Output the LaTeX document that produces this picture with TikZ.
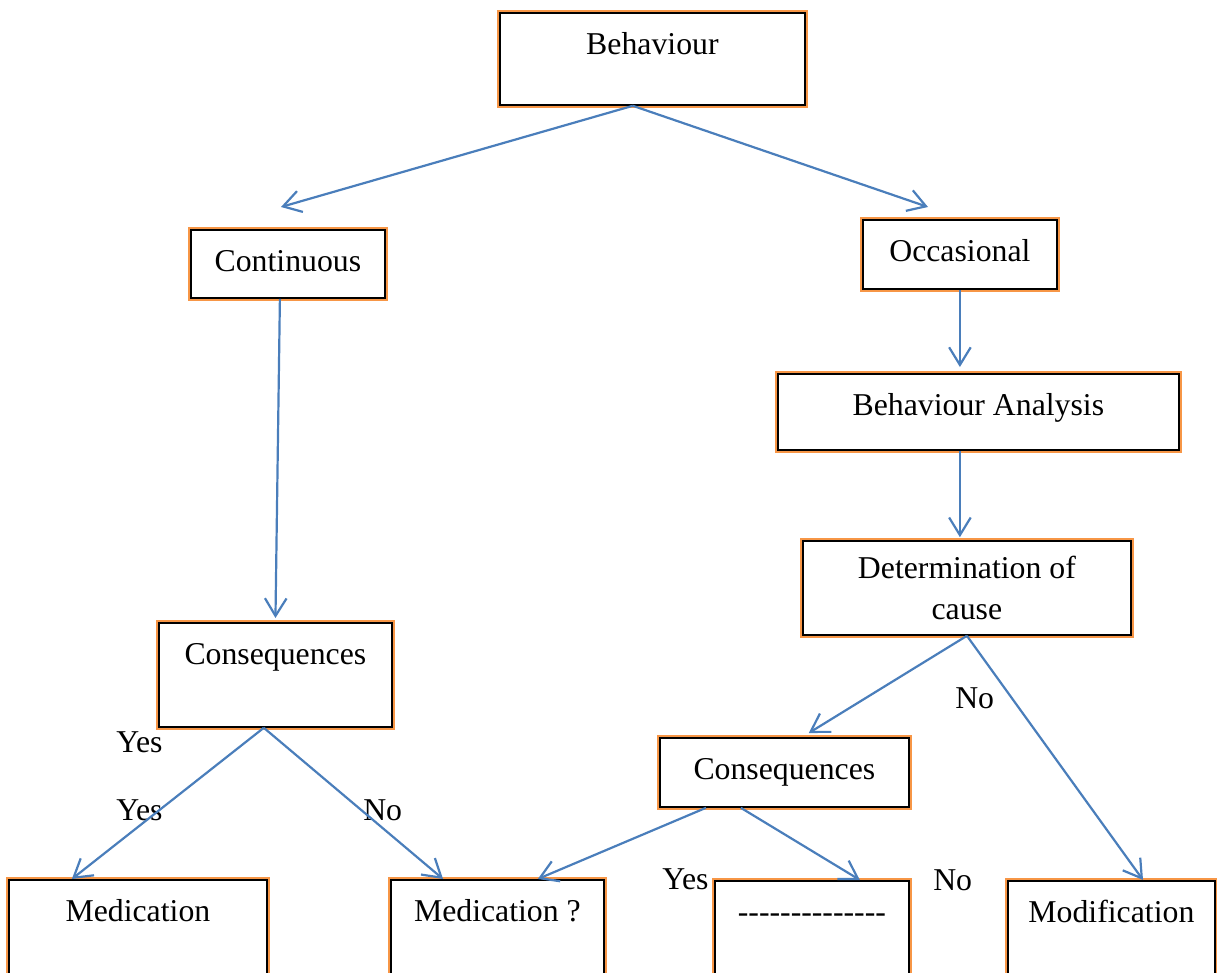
\documentclass[tikz,border=0pt]{standalone}
\usepackage{fontspec}
\setmainfont{Liberation Serif}
\usetikzlibrary{arrows.meta}

\definecolor{flowblue}{HTML}{4A7EBB}
\definecolor{frameorange}{HTML}{F79646}

\begin{document}
\begin{tikzpicture}[x=0.25mm, y=-0.25mm, font=\fontsize{22.6}{29.2}\selectfont,
  box/.style={draw=black, line width=0.45mm, fill=white, preaction={draw=frameorange, line width=1.4mm}, inner sep=0pt, anchor=north west},
  toptext/.style={text height=10.3mm},
  arr/.style={-{Straight Barb[length=4.4mm, width=5.4mm]}, draw=flowblue, line width=0.55mm},
  lbl/.style={anchor=base west, inner sep=0pt}]
\clip (0,0) rectangle (1217,973);

% Cajas
\node[box, toptext, minimum width=76.25mm, text depth=12.7mm] (beh) at (499,12) {Behaviour};
\node[box, toptext, minimum width=48.5mm, text depth=6.7mm] (cont) at (190,229) {Continuous};
\node[box, toptext, minimum width=48.5mm, text depth=6.95mm] (occ) at (862,219) {Occasional};
\node[box, toptext, minimum width=100.25mm, text depth=8.7mm] (bana) at (777,373) {Behaviour Analysis};
\node[box, align=center, minimum width=82mm, minimum height=23.5mm] (detc) at (802,540) {Determination of\\cause};
\node[box, toptext, minimum width=58.25mm, text depth=15.7mm] (consl) at (158,622) {Consequences};
\node[box, toptext, minimum width=62.25mm, text depth=6.95mm] (consr) at (659,737) {Consequences};
\node[box, toptext, minimum width=64.5mm, text depth=17.45mm] (meda) at (8,879) {Medication};
\node[box, toptext, minimum width=53.25mm, text depth=17.45mm] (medb) at (390,879) {Medication ?};
\node[box, toptext, minimum width=48.5mm, text depth=17.2mm] (undec) at (714,880) {{-}{-}{-}{-}{-}{-}{-}{-}{-}{-}{-}{-}{-}{-}};
\node[box, toptext, minimum width=51.75mm, text depth=17.2mm] (modif) at (1007,880) {Modification};

% Etiquetas
\node[lbl] (yesa) at (116,752) {Yes};
\node[lbl] (yesb) at (116,820) {Yes};
\node[lbl] (noa) at (363,820) {No};
\node[lbl] (nob) at (955,708) {No};
\node[lbl] (yesc) at (662,889) {Yes};
\node[lbl] (noc) at (933,890) {No};

% Flechas
\coordinate (tipl) at (281,207);
\coordinate (tipr) at (928,207);
\draw[arr] ([xshift=-4.9mm]beh.south) -- (tipl);
\draw[arr] ([xshift=-4.9mm]beh.south) -- (tipr);
\draw[arr, shorten >=1mm] ([xshift=-2mm]cont.south) -- (consl.north);
\draw[arr, shorten >=1.5mm] (occ.south) -- (occ.south |- bana.north);
\draw[arr, shorten >=0.7mm] (occ.south |- bana.south) -- (occ.south |- detc.north);
\draw[arr] (detc.south) -- ([xshift=6.1mm, yshift=1mm]consr.north);
\draw[arr] (detc.south) -- ([xshift=7.9mm]modif.north);
\draw[arr] ([xshift=-2.9mm]consl.south) -- ([xshift=-16.5mm]meda.north);
\draw[arr] ([xshift=-2.9mm]consl.south) -- ([xshift=-13.6mm]medb.north);
\draw[arr] ([xshift=-19.6mm]consr.south) -- ([xshift=10.1mm]medb.north);
\draw[arr] ([xshift=-10.9mm]consr.south) -- ([xshift=12mm]undec.north);

\end{tikzpicture}
\end{document}
